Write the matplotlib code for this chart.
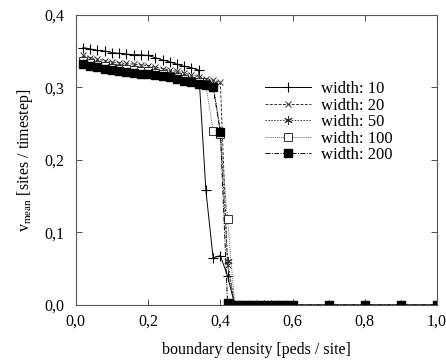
import matplotlib
matplotlib.use("Agg")
import matplotlib.pyplot as plt
import numpy as np

plt.rcParams['font.family'] = ['Liberation Serif', 'DejaVu Serif']
plt.rcParams['mathtext.fontset'] = 'custom'
plt.rcParams['mathtext.rm'] = 'Liberation Serif'

# plateau x values 0.02 ... 0.38 plus transition and zero region
x_all = [0.02, 0.04, 0.06, 0.08, 0.10, 0.12, 0.14, 0.16, 0.18, 0.20,
         0.22, 0.24, 0.26, 0.28, 0.30, 0.32, 0.34, 0.36, 0.38, 0.40,
         0.42, 0.44, 0.46, 0.48, 0.50, 0.52, 0.54, 0.56, 0.58, 0.60,
         0.70, 0.80, 0.90, 1.00]

w10 = [0.355, 0.353, 0.351, 0.350, 0.348, 0.347, 0.346, 0.345, 0.345, 0.344,
       0.341, 0.338, 0.335, 0.332, 0.329, 0.327, 0.324, 0.158, 0.065, 0.068,
       0.040, 0.0, 0.0, 0.0, 0.0, 0.0, 0.0, 0.0, 0.0, 0.0,
       0.0, 0.0, 0.0, 0.0]
w20 = [0.344, 0.341, 0.339, 0.337, 0.335, 0.334, 0.333, 0.332, 0.331, 0.330,
       0.328, 0.326, 0.324, 0.322, 0.320, 0.317, 0.315, 0.312, 0.310, 0.307,
       0.055, 0.0, 0.0, 0.0, 0.0, 0.0, 0.0, 0.0, 0.0, 0.0,
       0.0, 0.0, 0.0, 0.0]
w50 = [0.339, 0.336, 0.334, 0.332, 0.330, 0.329, 0.328, 0.327, 0.326, 0.325,
       0.323, 0.321, 0.319, 0.317, 0.315, 0.312, 0.310, 0.307, 0.305, 0.240,
       0.060, 0.0, 0.0, 0.0, 0.0, 0.0, 0.0, 0.0, 0.0, 0.0,
       0.0, 0.0, 0.0, 0.0]
w100 = [0.336, 0.333, 0.331, 0.329, 0.327, 0.326, 0.325, 0.324, 0.323, 0.322,
        0.320, 0.318, 0.316, 0.314, 0.312, 0.309, 0.307, 0.304, 0.240, 0.236,
        0.118, 0.0, 0.0, 0.0, 0.0, 0.0, 0.0, 0.0, 0.0, 0.0,
        0.0, 0.0, 0.0, 0.0]
w200 = [0.332, 0.330, 0.328, 0.326, 0.324, 0.323, 0.321, 0.320, 0.319, 0.319,
        0.317, 0.316, 0.314, 0.311, 0.309, 0.307, 0.305, 0.303, 0.300, 0.239,
        0.003, 0.0, 0.0, 0.0, 0.0, 0.0, 0.0, 0.0, 0.0, 0.0,
        0.0, 0.0, 0.0, 0.0]

labels = ['width: 10', 'width: 20', 'width: 50', 'width: 100', 'width: 200']
xticks = [0.0, 0.2, 0.4, 0.6, 0.8, 1.0]
yticks = [0.0, 0.1, 0.2, 0.3, 0.4]

fig = plt.figure(figsize=(4.46, 3.63), dpi=100)
ax = fig.add_axes([0.170, 0.160, 0.810, 0.799])

lw = 0.7
ax.plot(x_all, w10, color='black', lw=lw, ls='-', marker='+', ms=7.5, mew=0.8, label=labels[0])
ax.plot(x_all, w20, color='#333333', lw=lw, ls=(0, (3, 1.5)), marker='x', ms=5, mew=0.7,
        label=labels[1])
ax.plot(x_all, w50, color='#333333', lw=lw, ls=(0, (1.5, 1.5)), marker=(6, 2, 0), ms=6, mew=0.7,
        label=labels[2])
ax.plot(x_all, w100, color='#666666', lw=lw, ls=(0, (1, 1)), marker='s', ms=5.5, mew=0.7,
        mfc='white', mec='#333333', label=labels[3])
ax.plot(x_all, w200, color='black', lw=lw, ls=(0, (5, 1.5, 1, 1.5)), marker='s', ms=6,
        mfc='black', mec='black', label=labels[4])

ax.set_xlim(0, 1.0)
ax.set_ylim(0, 0.4)
ax.set_xticks(xticks)
ax.set_yticks(yticks)
ax.set_xticklabels([f"{v:.1f}".replace('.', ',') for v in xticks])
ax.set_yticklabels([f"{v:.1f}".replace('.', ',') for v in yticks])
ax.tick_params(direction='in', top=True, right=True, length=4, width=0.6,
               labelsize=11.5, colors='#333333', labelcolor='black')
ax.tick_params(axis='x', pad=6)
ax.tick_params(axis='y', pad=8)
for s in ax.spines.values():
    s.set_linewidth(0.8)
    s.set_color('#555555')

ax.set_xlabel('boundary density [peds / site]', fontsize=11.5, labelpad=9)
ax.set_ylabel(r'v$_\mathregular{mean}$ [sites / timestep]', fontsize=11.5, labelpad=7)

leg = ax.legend(loc='upper left', bbox_to_anchor=(0.523, 0.772), frameon=False,
                fontsize=12, handlelength=2.8, labelspacing=0.03, handletextpad=0.6,
                borderaxespad=0.0, borderpad=0.0)

fig.savefig('out.png', dpi=100)
